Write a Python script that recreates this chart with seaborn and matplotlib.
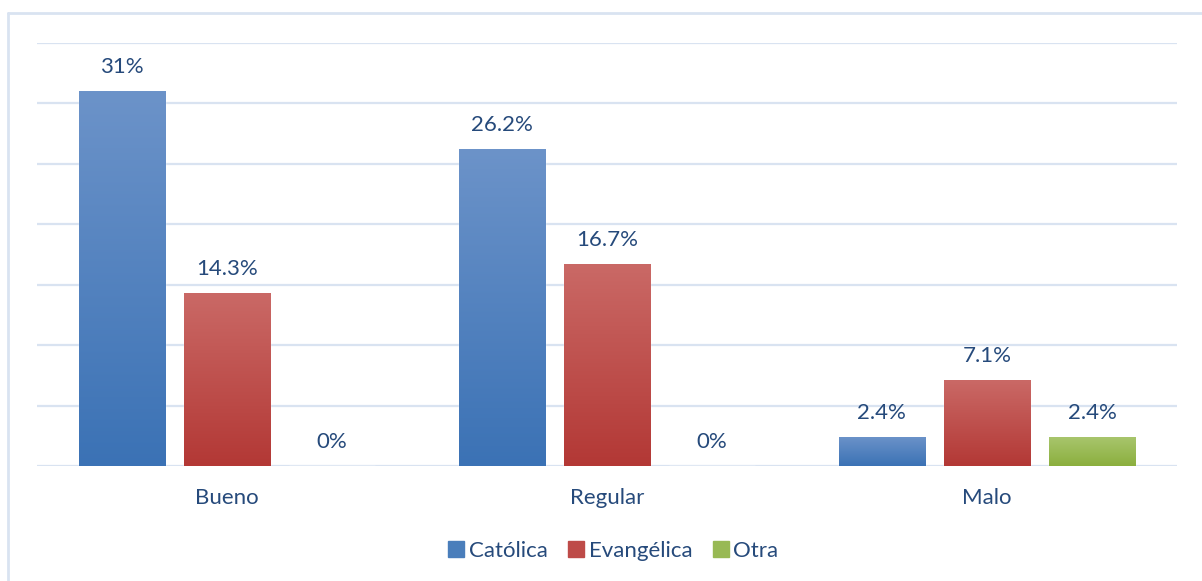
import pandas as pd
import seaborn as sns
import matplotlib.pyplot as plt
import numpy as np
from matplotlib.lines import Line2D
from matplotlib.colors import LinearSegmentedColormap

# Datos (porcentajes)
categorias = ['Bueno', 'Regular', 'Malo']
series = ['Católica', 'Evangélica', 'Otra']
catolica = [31, 26.2, 2.4]
evangelica = [14.3, 16.7, 7.1]
otra = [0, 0, 2.4]

# Colores tipo Office (arriba claro, abajo oscuro)
colores = {'Católica': '#4A7EBB', 'Evangélica': '#BE4B48', 'Otra': '#98B954'}
degradados = {'Católica': ('#6C93C9', '#3B72B5'),
              'Evangélica': ('#CA6966', '#B33835'),
              'Otra': ('#A9C66E', '#8BAF3E')}
texto_color = '#264A7B'
grid_color = '#D9E3F1'

df = pd.DataFrame({
    'categoria': categorias * 3,
    'serie': [s for s in series for _ in categorias],
    'valor': catolica + evangelica + otra,
})

sns.set_style('white')
plt.rcParams['font.family'] = ['Lato', 'DejaVu Sans']

fig = plt.figure(figsize=(12.02, 5.81), dpi=100)
ax = fig.add_axes([37 / 1202, 1 - 466 / 581, (1177 - 37) / 1202, (466 - 43) / 581])

sns.barplot(data=df, x='categoria', y='valor', hue='serie', order=categorias,
            hue_order=series, palette=colores, width=0.83, gap=0.18,
            ax=ax, legend=False, zorder=3)

ax.set_xlim(-0.5, 2.5)
ax.set_ylim(0, 35)

# degradado vertical en cada barra
for cont, s in zip(ax.containers, series):
    cmap = LinearSegmentedColormap.from_list(s, [degradados[s][1], degradados[s][0]])
    grad = np.linspace(0, 1, 256).reshape(-1, 1)
    for p in cont.patches:
        x0, y0 = p.get_x(), p.get_y()
        w, h = p.get_width(), p.get_height()
        if h <= 0:
            continue
        im = ax.imshow(grad, cmap=cmap, origin='lower', aspect='auto',
                       extent=[x0, x0 + w, y0, y0 + h], zorder=3.5)
        im.set_clip_path(p)
    cont_labels = [f'{v:g}%' for v in cont.datavalues]
    ax.bar_label(cont, labels=cont_labels, padding=10, fontsize=16, color=texto_color)

ax.set_xlim(-0.5, 2.5)
ax.set_ylim(0, 35)

ax.set_yticks(np.arange(0, 36, 5))
ax.yaxis.grid(True, color=grid_color, linewidth=1.6, zorder=0)
ax.set_axisbelow(True)
ax.set_yticklabels([])
ax.tick_params(axis='y', length=0)
ax.tick_params(axis='x', length=0, pad=16, labelsize=16, labelcolor=texto_color)
ax.set_xlabel('')
ax.set_ylabel('')
for sp in ax.spines.values():
    sp.set_visible(False)

# leyenda
handles = [Line2D([0], [0], marker='s', linestyle='', markersize=11,
                  markerfacecolor=colores[s], markeredgecolor=colores[s]) for s in series]
leg = fig.legend(handles, series, loc='center', bbox_to_anchor=(0.509, 1 - 551 / 581),
                 ncol=3, frameon=False, fontsize=16, handletextpad=0.05,
                 columnspacing=0.8, handlelength=1.0)
for t in leg.get_texts():
    t.set_color(texto_color)

# marco exterior del grafico (solo se ven borde izquierdo y superior)
fig.add_artist(Line2D([8 / 1202, 8 / 1202], [0, 1 - 13 / 581], color=grid_color, linewidth=2))
fig.add_artist(Line2D([8 / 1202, 1], [1 - 13 / 581, 1 - 13 / 581], color=grid_color, linewidth=2))

fig.savefig('out.png', dpi=100)
